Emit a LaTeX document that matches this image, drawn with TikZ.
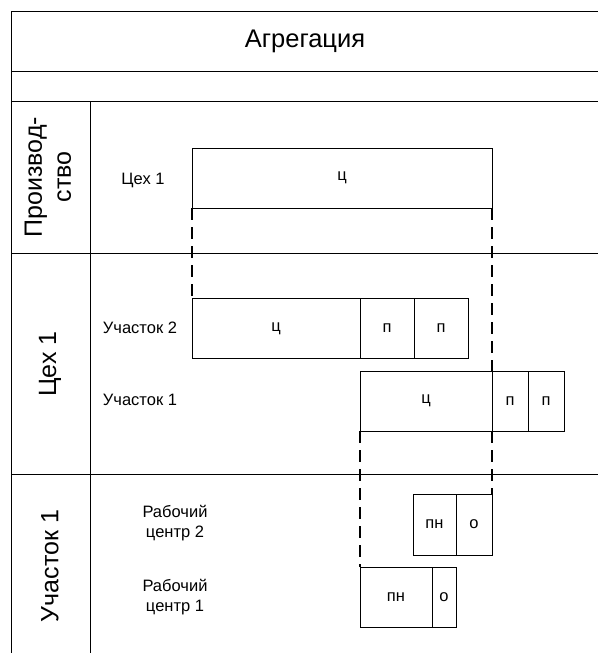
\documentclass[tikz,border=0pt]{standalone}
\usepackage{fontspec}
\setmainfont{Liberation Sans}
\usetikzlibrary{positioning}

\begin{document}
\begin{tikzpicture}[
  x=1pt, y=-1pt,
  cell/.style={draw, line width=0.8pt, inner sep=0pt, outer sep=0pt,
    minimum height=60pt, font=\fontsize{16.5}{20}\selectfont},
  lbl/.style={align=center, font=\fontsize{16.5}{20}\selectfont},
  side/.style={rotate=90, align=center, font=\fontsize{25}{29}\selectfont},
  frame/.style={line width=1pt},
  guide/.style={line width=1.2pt, dash pattern=on 12pt off 7pt}
]
\useasboundingbox (0,0) rectangle (597,653);

% table frame
\draw[frame] (599,11) -- (11,11) -- (11,660);
\draw[frame] (11,71) -- (599,71);
\draw[frame] (11,101) -- (599,101);
\draw[frame] (11,253) -- (599,253);
\draw[frame] (11,474) -- (599,474);
\draw[frame] (90,101) -- (90,660);

\node[font=\fontsize{25.5}{29}\selectfont] (title) at (305,41) {Агрегация};

\node[side] (lvl1) at (48,177) {Производ-\\ство};
\node[side] (lvl2) at (50,364) {Цех 1};
\node[side] (lvl3) at (50,566) {Участок 1};

\node[lbl] (lceh) at (143,180) {Цех 1};
\node[lbl] (lu2) at (140,328) {Участок 2};
\node[lbl] (lu1) at (140,400) {Участок 1};
\node[lbl] (lrc2) at (175,523) {Рабочий\\центр 2};
\node[lbl] (lrc1) at (175,597) {Рабочий\\центр 1};

% Цех 1
\node[cell, minimum width=300pt] (ceh) at (342,178) {ц};

% Участок 2
\node[cell, minimum width=168pt] (u2c) at (276,328.5) {ц};
\node[cell, minimum width=54pt, right=0pt of u2c] (u2p1) {п};
\node[cell, minimum width=54pt, right=0pt of u2p1] (u2p2) {п};

% Участок 1
\node[cell, minimum width=132pt] (u1c) at (426,401) {ц};
\node[cell, minimum width=36pt, right=0pt of u1c] (u1p1) {п};
\node[cell, minimum width=36pt, right=0pt of u1p1] (u1p2) {п};

% рабочие центры
\node[cell, minimum width=43pt, minimum height=61pt] (rc2pn) at (434.5,524.5) {пн};
\node[cell, minimum width=36pt, minimum height=61pt, right=0pt of rc2pn] (rc2o) {о};
\node[cell, minimum width=72pt] (rc1pn) at (396,597) {пн};
\node[cell, minimum width=24pt, right=0pt of rc1pn] (rc1o) {о};

\draw[guide] (ceh.south west) -- (u2c.north west);
\draw[guide] (ceh.south east) -- (u1c.north east);
\draw[guide] (u1c.south west) -- (rc1pn.north west);
\draw[guide] (u1c.south east) -- (rc2o.north east);
\end{tikzpicture}
\end{document}
